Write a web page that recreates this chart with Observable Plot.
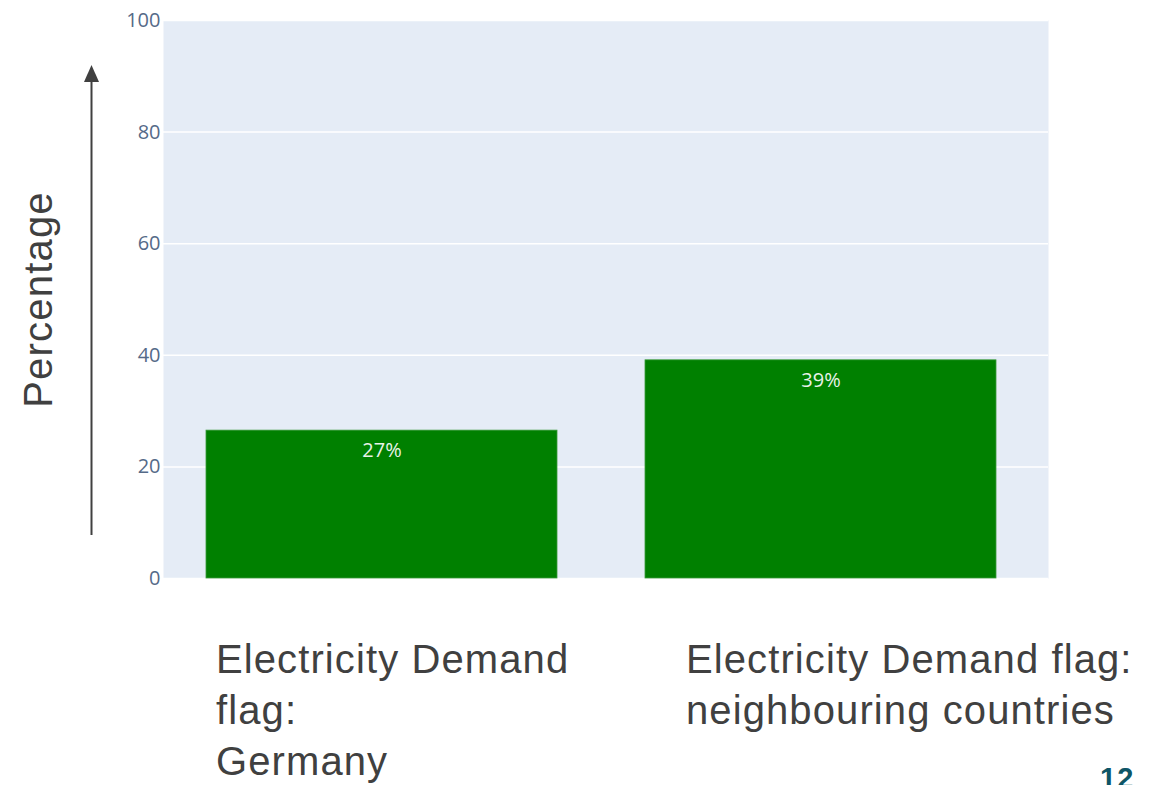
<!DOCTYPE html>
<html>
<head>
<meta charset="utf-8">
<script src="https://cdn.jsdelivr.net/npm/d3@7"></script>
<script src="https://cdn.jsdelivr.net/npm/@observablehq/plot@0.6"></script>
<style>
  html, body { margin: 0; padding: 0; background: #fff; }
  #wrap { position: relative; width: 1163px; height: 785px; overflow: hidden; }
  #chart { position: absolute; left: 0; top: 0; }
  .catlabel { position: absolute; font-family: "Liberation Sans", Arial, sans-serif; font-size: 40px; line-height: 51px; letter-spacing: 1.1px; color: #404040; white-space: pre; }
  #ylabel { position: absolute; font-family: "Liberation Sans", Arial, sans-serif; font-size: 40px; letter-spacing: 1.2px; color: #404040; white-space: pre; transform-origin: center center; }
  #pagenum { position: absolute; font-family: "Liberation Sans", Arial, sans-serif; font-weight: bold; font-size: 29px; letter-spacing: 1px; color: #0e5566; }
</style>
</head>
<body>
<div id="wrap">
  <div id="chart"></div>
</div>
<script>
// ---- data ----
const categories = ["Germany", "Neighbouring countries"];
const values = [26.5, 39.1];
const valueLabels = ["27%", "39%"];
const categoryLabels = ["Electricity Demand\nflag:\nGermany", "Electricity Demand flag:\nneighbouring countries"];
const yTicks = [0, 20, 40, 60, 80, 100];
const yAxisTitle = "Percentage";
const pageNumber = "12";

const data = categories.map((c, i) => ({category: c, value: values[i], label: valueLabels[i]}));

const chart = Plot.plot({
  width: 1163,
  height: 600,
  marginLeft: 163,
  marginRight: 115,
  marginTop: 20,
  marginBottom: 22,
  style: {fontFamily: "'Open Sans', sans-serif", background: "transparent"},
  x: {domain: categories, paddingInner: 0.2, paddingOuter: 0.1, range: [162, 1041], axis: null},
  y: {domain: [0, 100], ticks: yTicks},
  marks: [
    Plot.frame({fill: "#E5ECF6", stroke: null}),
    Plot.gridY(yTicks, {stroke: "#ffffff", strokeOpacity: 1, strokeWidth: 1.5}),
    Plot.axisY(yTicks, {tickSize: 0, tickPadding: 3, fontSize: 20, fill: "#556a88", label: null}),
    Plot.barY(data, {x: "category", y: "value", fill: "#008000", stroke: "#3a9a3a", strokeWidth: 0.8, inset: 0}),
    Plot.text(data, {x: "category", y: "value", text: "label", dy: 20, fill: "#e8f2e8", fontSize: 20, fontFamily: "'Open Sans', sans-serif"})
  ]
});
document.getElementById("chart").appendChild(chart);

const wrap = document.getElementById("wrap");
// category labels (slide text boxes)
const labelPos = [[216, 634], [686, 634]];
categoryLabels.forEach((t, i) => {
  const d = document.createElement("div");
  d.className = "catlabel";
  d.textContent = t;
  d.style.left = labelPos[i][0] + "px";
  d.style.top = labelPos[i][1] + "px";
  wrap.appendChild(d);
});

// y-axis title, rotated
const yl = document.createElement("div");
yl.id = "ylabel";
yl.textContent = yAxisTitle;
wrap.appendChild(yl);
const w = yl.offsetWidth, h = yl.offsetHeight;
yl.style.left = (38 - w / 2) + "px";
yl.style.top = (299 - h / 2) + "px";
yl.style.transform = "rotate(-90deg)";

// arrow next to the axis title
const svg = d3.select(wrap).append("svg")
  .attr("width", 30).attr("height", 500)
  .style("position", "absolute").style("left", "76px").style("top", "50px");
svg.append("line").attr("x1", 15.5).attr("x2", 15.5).attr("y1", 485).attr("y2", 30)
  .attr("stroke", "#404040").attr("stroke-width", 2);
svg.append("path").attr("d", "M15.5,15 L23,32 L8,32 Z").attr("fill", "#404040");

// page number (cut off at the bottom edge, as in the original slide)
const pn = document.createElement("div");
pn.id = "pagenum";
pn.textContent = pageNumber;
pn.style.left = "1100px";
pn.style.top = "762px";
wrap.appendChild(pn);
</script>
</body>
</html>
